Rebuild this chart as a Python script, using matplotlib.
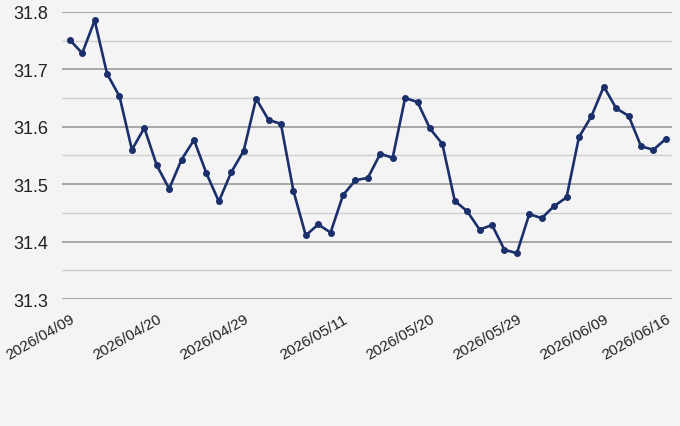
import matplotlib

matplotlib.use("Agg")
import matplotlib.pyplot as plt
import pandas as pd
from matplotlib.ticker import MultipleLocator

# business days 2026/04/09 -> 2026/06/16
dates = pd.bdate_range("2026-04-09", "2026-06-16").strftime("%Y/%m/%d").tolist()

rates = [
    31.751, 31.728, 31.785, 31.692, 31.653, 31.560, 31.598, 31.533, 31.492, 31.543,
    31.577, 31.519, 31.470, 31.521, 31.558, 31.649, 31.612, 31.605, 31.489, 31.411,
    31.430, 31.416, 31.481, 31.507, 31.511, 31.553, 31.546, 31.650, 31.643, 31.597,
    31.570, 31.471, 31.453, 31.421, 31.429, 31.386, 31.380, 31.448, 31.441, 31.462,
    31.477, 31.582, 31.618, 31.670, 31.632, 31.619, 31.566, 31.560, 31.579,
]

tick_labels = [
    "2026/04/09", "2026/04/20", "2026/04/29", "2026/05/11",
    "2026/05/20", "2026/05/29", "2026/06/09", "2026/06/16",
]

LINE = "#1b2f6b"
BG = "#f4f4f4"

plt.rcParams["font.family"] = ["Liberation Sans", "DejaVu Sans"]

fig = plt.figure(figsize=(6.8, 4.27), dpi=100, facecolor=BG)
ax = fig.add_axes([0.091, 0.297, 0.897, 0.673], facecolor=BG)

x = list(range(len(rates)))
ax.plot(x, rates, color=LINE, lw=1.9, marker="o", ms=4, zorder=3)

ax.set_ylim(31.3, 31.8)
ax.set_xlim(-0.64, len(rates) - 1 + 0.48)
ax.yaxis.set_major_locator(MultipleLocator(0.1))
ax.yaxis.set_minor_locator(MultipleLocator(0.05))
ax.grid(axis="y", which="major", color="#9a9a9a", lw=1.2)
ax.grid(axis="y", which="minor", color="#cfcfcf", lw=1.0)
ax.set_axisbelow(True)

ax.set_xticks([dates.index(d) for d in tick_labels])
ax.set_xticklabels(tick_labels, rotation=30, ha="right", rotation_mode="anchor", fontsize=11)
ax.set_yticklabels([f"{v:.1f}" for v in ax.get_yticks()], fontsize=13)
ax.tick_params(axis="both", which="both", length=0, colors="#222222")
ax.tick_params(axis="y", pad=10)
ax.tick_params(axis="x", pad=9)

for s in ax.spines.values():
    s.set_visible(False)

fig.savefig("out.png", dpi=100, facecolor=BG)
